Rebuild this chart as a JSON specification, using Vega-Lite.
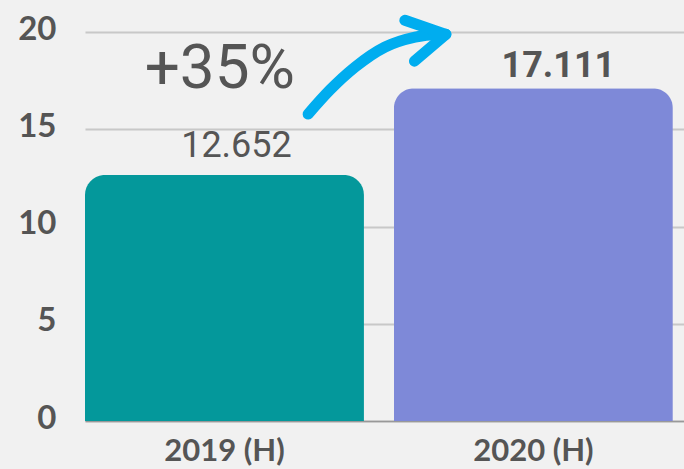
{
  "$schema": "https://vega.github.io/schema/vega-lite/v6.json",
  "width": 599,
  "height": 389,
  "autosize": {"type": "none"},
  "padding": {"left": 85, "top": 32, "right": 0, "bottom": 48},
  "background": "#f1f1f1",
  "config": {"view": {"stroke": null}, "font": "Lato"},
  "datasets": {
    "bars": [
      {"period": "2019 (H)", "value": 12.652, "label": "12.652"},
      {"period": "2020 (H)", "value": 17.111, "label": "17.111"}
    ],
    "arrow": [
      {"s": "curve", "i": 0, "u": 0.745, "v": 15.78},
      {"s": "curve", "i": 1, "u": 0.818, "v": 17.02},
      {"s": "curve", "i": 2, "u": 0.902, "v": 18.2},
      {"s": "curve", "i": 3, "u": 1.002, "v": 19.23},
      {"s": "curve", "i": 4, "u": 1.102, "v": 19.74},
      {"s": "curve", "i": 5, "u": 1.19, "v": 19.9},
      {"s": "arm1", "i": 0, "u": 1.068, "v": 20.6},
      {"s": "arm1", "i": 1, "u": 1.205, "v": 19.88},
      {"s": "arm2", "i": 0, "u": 1.1, "v": 18.5},
      {"s": "arm2", "i": 1, "u": 1.205, "v": 19.88}
    ],
    "note": [{"u": 0.45, "v": 17.12, "text": "+35%"}]
  },
  "layer": [
    {
      "data": {"name": "bars"},
      "encoding": {
        "x": {
          "field": "period", "type": "nominal", "sort": null,
          "scale": {"paddingInner": 0.097, "paddingOuter": 0.018, "align": 0},
          "axis": {
            "title": null, "labelAngle": 0, "ticks": false,
            "domainColor": "#999999", "domainWidth": 1.5,
            "labelFont": "Lato", "labelFontWeight": "bold", "labelFontSize": 31,
            "labelColor": "#555555", "labelPadding": 39, "labelBaseline": "alphabetic"
          }
        },
        "y": {
          "field": "value", "type": "quantitative",
          "scale": {"domain": [0, 20], "nice": false},
          "axis": {
            "title": null, "values": [0, 5, 10, 15, 20], "ticks": false, "domain": false,
            "gridColor": "#c8c8c8", "gridWidth": 2,
            "labelFont": "Lato", "labelFontWeight": "bold", "labelFontSize": 33,
            "labelColor": "#555555", "labelPadding": 29, "labelOffset": -3
          }
        }
      },
      "layer": [
        {
          "mark": {"type": "bar", "cornerRadiusTopLeft": 20, "cornerRadiusTopRight": 20},
          "encoding": {
            "color": {
              "field": "period", "type": "nominal", "sort": null,
              "scale": {"range": ["#04989b", "#7e89d8"]}, "legend": null
            }
          }
        },
        {
          "transform": [{"filter": "datum.period == '2019 (H)'"}],
          "mark": {"type": "text", "font": "Roboto", "fontSize": 36, "color": "#555555", "baseline": "alphabetic", "align": "center", "dx": 12, "dy": -18},
          "encoding": {"text": {"field": "label"}}
        },
        {
          "transform": [{"filter": "datum.period == '2020 (H)'"}],
          "mark": {"type": "text", "font": "Roboto", "fontWeight": "bold", "fontSize": 36, "color": "#555555", "baseline": "alphabetic", "align": "center", "dx": 25, "dy": -11},
          "encoding": {"text": {"field": "label"}}
        }
      ]
    },
    {
      "encoding": {
        "x": {"field": "u", "type": "quantitative", "scale": {"domain": [0, 2], "nice": false, "zero": false}, "axis": null},
        "y": {"field": "v", "type": "quantitative"}
      },
      "layer": [
        {
          "data": {"name": "arrow"},
          "mark": {"type": "line", "interpolate": "monotone", "strokeWidth": 11, "strokeCap": "round", "strokeJoin": "round", "color": "#00adef", "clip": false},
          "encoding": {
            "detail": {"field": "s"},
            "order": {"field": "i"}
          }
        },
        {
          "data": {"name": "note"},
          "mark": {"type": "text", "font": "Roboto", "fontSize": 62, "color": "#555555", "baseline": "alphabetic", "align": "center"},
          "encoding": {"text": {"field": "text"}}
        }
      ]
    }
  ],
  "resolve": {"scale": {"x": "independent"}}
}
